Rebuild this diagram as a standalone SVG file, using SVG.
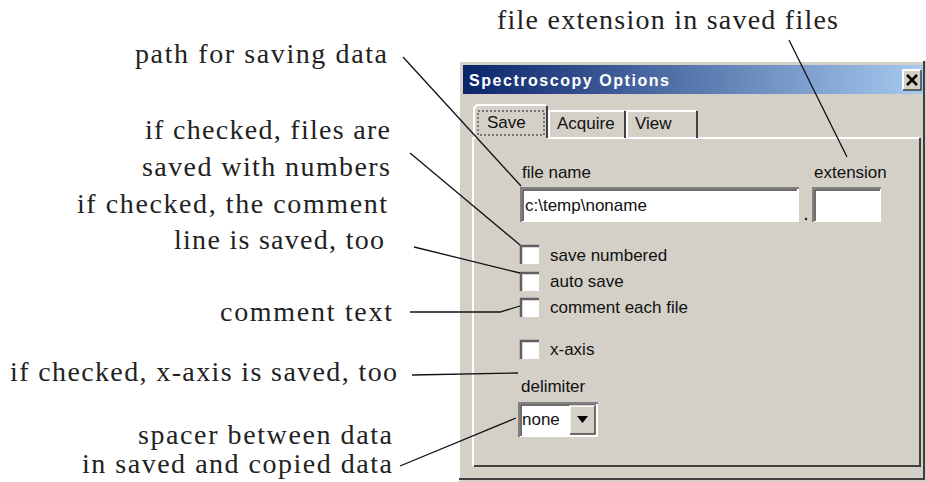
<svg xmlns="http://www.w3.org/2000/svg" width="926" height="482" viewBox="0 0 926 482">
<defs>
<linearGradient id="tb" x1="0" y1="0" x2="1" y2="0">
<stop offset="0" stop-color="#0a246a"/>
<stop offset="1" stop-color="#a6caf0"/>
</linearGradient>
</defs>
<style>
.ann{font-family:"Liberation Serif","Times New Roman",serif;font-size:28px;fill:#222;text-anchor:end}
.ui{font-family:"Liberation Sans",Arial,sans-serif;font-size:17px;fill:#111}
.lead{fill:none;stroke:#111;stroke-width:1.3}
.hi{stroke:#fff;stroke-width:2;fill:none}
.sh{stroke:#404040;stroke-width:2;fill:none}
.sh2{stroke:#808080;stroke-width:2;fill:none}
.field{fill:#fff}
</style>
<rect width="926" height="482" fill="#fff"/>

<g id="dialog">
<rect x="458" y="60" width="468" height="422" fill="#d4d0c8"/>
<path class="hi" d="M459 481 V61 H925"/>
<path class="sh" d="M459 479 H924 V61"/>
<rect x="463" y="65" width="460" height="29" fill="url(#tb)"/>
<text x="469" y="86" font-family="Liberation Sans,Arial,sans-serif" font-weight="bold" font-size="16" fill="#fff" textLength="200">Spectroscopy Options</text>
<g id="close">
<rect x="903" y="70" width="18" height="20" fill="#d4d0c8"/>
<path class="hi" d="M903 90 V70 H921" stroke-width="1"/>
<path d="M903 90 H921 V70" stroke="#404040" stroke-width="1.5" fill="none"/>
<path d="M907 75 L917 85 M917 75 L907 85" stroke="#000" stroke-width="2.5"/>
</g>
<path class="hi" d="M473 466 V138 H476 M547 138 H920"/>
<path class="sh" d="M474 466 H920 V138"/>
<g id="tab-save">
<path class="hi" d="M474 138 V108 L477 105 H546"/>
<path class="sh" d="M547 106 V138"/>
<rect x="478" y="111" width="66" height="24" fill="none" stroke="#222" stroke-width="1" stroke-dasharray="2 2"/>
<text class="ui" x="487" y="128">Save</text>
</g>
<g id="tab-acquire">
<path class="hi" d="M549 138 V111 H624"/>
<path class="sh" d="M625 111 V138"/>
<text class="ui" x="557" y="129">Acquire</text>
</g>
<g id="tab-view">
<path class="hi" d="M627 138 V111 H696"/>
<path class="sh" d="M697 111 V138"/>
<text class="ui" x="635" y="129">View</text>
</g>
<g id="filename">
<text class="ui" x="522" y="178">file name</text>
<rect class="field" x="520" y="187" width="279" height="35"/>
<path class="sh2" d="M521 222 V188 H799"/>
<path d="M523 221 V190 H797" stroke="#404040" stroke-width="1.5" fill="none"/>
<text class="ui" x="525" y="211">c:\temp\noname</text>
</g>
<circle cx="806" cy="219" r="1.2" fill="#222"/>
<g id="extension">
<text class="ui" x="814" y="178">extension</text>
<rect class="field" x="812" y="187" width="69" height="35"/>
<path class="sh2" d="M813 222 V188 H881"/>
<path d="M815 221 V190 H880" stroke="#404040" stroke-width="1.5" fill="none"/>
</g>
<g id="cb-numbered">
<rect class="field" x="520" y="245" width="19" height="19"/>
<path d="M521 264 V246 H539" stroke="#606060" stroke-width="2.5" fill="none"/>
<text class="ui" x="550" y="261">save numbered</text>
</g>
<g id="cb-autosave">
<rect class="field" x="520" y="272" width="19" height="19"/>
<path d="M521 291 V273 H539" stroke="#606060" stroke-width="2.5" fill="none"/>
<text class="ui" x="550" y="287">auto save</text>
</g>
<g id="cb-comment">
<rect class="field" x="520" y="298" width="19" height="19"/>
<path d="M521 317 V299 H539" stroke="#606060" stroke-width="2.5" fill="none"/>
<text class="ui" x="550" y="313">comment each file</text>
</g>
<g id="cb-xaxis">
<rect class="field" x="520" y="340" width="19" height="19"/>
<path d="M521 359 V341 H539" stroke="#606060" stroke-width="2.5" fill="none"/>
<text class="ui" x="550" y="355">x-axis</text>
</g>
<g id="delimiter">
<text class="ui" x="521" y="392">delimiter</text>
<rect class="field" x="518" y="402" width="80" height="35"/>
<path class="sh2" d="M519 437 V403 H598"/>
<path d="M521 436 V405 H596" stroke="#404040" stroke-width="1.5" fill="none"/>
<text class="ui" x="522" y="425">none</text>
<rect x="570" y="406" width="25" height="28" fill="#d4d0c8"/>
<path d="M570 434 V406 H595" stroke="#fff" stroke-width="1.5" fill="none"/>
<path d="M570 434 H595 V406" stroke="#404040" stroke-width="1.5" fill="none"/>
<path d="M577 416 H588 L582.5 423 Z" fill="#000"/>
</g>
</g>

<g id="connectors">
<path class="lead" d="M789 40 L847 157"/>
<path class="lead" d="M403 57 L521 186"/>
<path class="lead" d="M410 153 L520 245"/>
<path class="lead" d="M414 247 L520 273"/>
<path class="lead" d="M410 312 L500 312 L520 306"/>
<path class="lead" d="M412 375 L518 373"/>
<path class="lead" d="M400 466 L516 418"/>
</g>

<g id="label-ext"><text class="ann" x="838" y="29" textLength="341" lengthAdjust="spacing">file extension in saved files</text></g>
<g id="label-path"><text class="ann" x="387" y="63" textLength="252" lengthAdjust="spacing">path for saving data</text></g>
<g id="label-numbered"><text class="ann" x="390" y="139" textLength="245" lengthAdjust="spacing">if checked, files are</text><text class="ann" x="390" y="176" textLength="248" lengthAdjust="spacing">saved with numbers</text></g>
<g id="label-commentline"><text class="ann" x="387" y="213" textLength="310" lengthAdjust="spacing">if checked, the comment</text><text class="ann" x="384" y="249" textLength="210" lengthAdjust="spacing">line is saved, too</text></g>
<g id="label-comment"><text class="ann" x="392" y="321" textLength="172" lengthAdjust="spacing">comment text</text></g>
<g id="label-xaxis"><text class="ann" x="397" y="381" textLength="387" lengthAdjust="spacing">if checked, x-axis is saved, too</text></g>
<g id="label-spacer"><text class="ann" x="392" y="444" textLength="254" lengthAdjust="spacing">spacer between data</text><text class="ann" x="392" y="473" textLength="310" lengthAdjust="spacing">in saved and copied data</text></g>
</svg>
